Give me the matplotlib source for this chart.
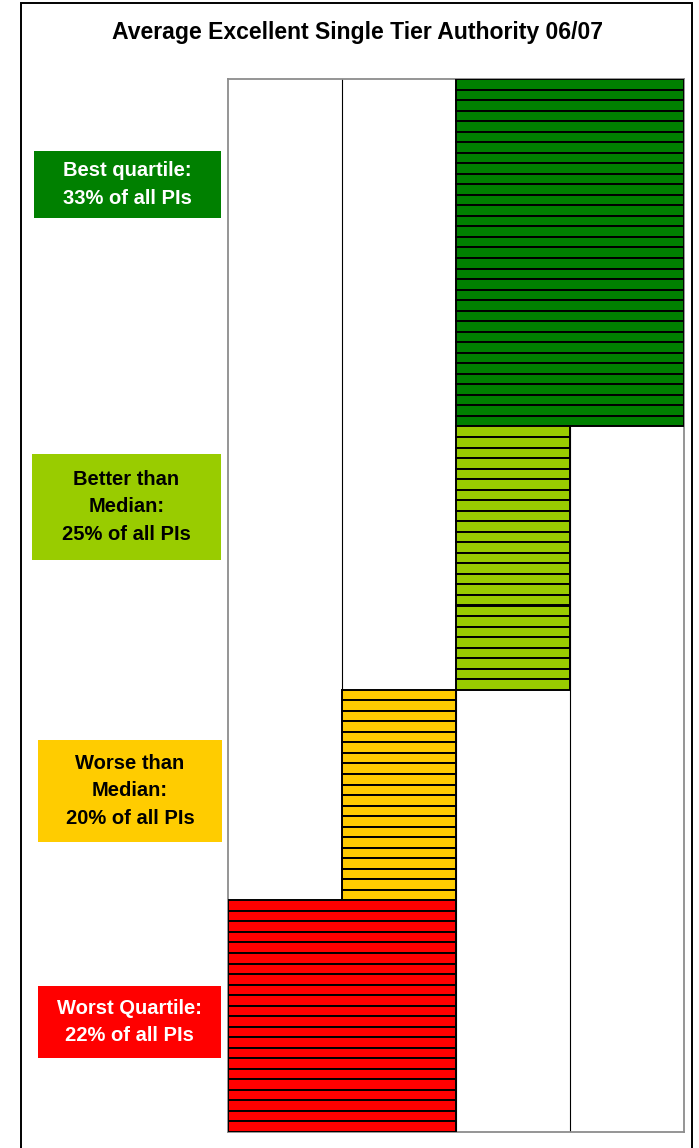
import matplotlib
matplotlib.use("Agg")
import matplotlib.pyplot as plt
from matplotlib.patches import Rectangle

plt.rcParams['font.family'] = ['Liberation Sans', 'DejaVu Sans']

# Performance-indicator bands, listed top to bottom
bands = ["Best quartile", "Better than Median", "Worse than Median", "Worst Quartile"]
pi_counts = [33, 25, 20, 22]          # number of PIs (of 100) in each band
bar_start = [2, 2, 1, 0]              # quartile scale position where the bars begin
bar_end = [4, 3, 2, 2]                # quartile scale position where the bars end
band_colors = ["#008000", "#99CC00", "#FFCC00", "#FF0000"]
band_labels = ["Best quartile:\n33% of all PIs",
               "Better than\nMedian:\n25% of all PIs",
               "Worse than\nMedian:\n20% of all PIs",
               "Worst Quartile:\n22% of all PIs"]
label_text_colors = ["white", "black", "black", "white"]
title = "Average Excellent Single Tier Authority 06/07"

W, H = 699, 1148
fig = plt.figure(figsize=(W / 100, H / 100), dpi=100)
fig.patch.set_facecolor("white")

# outer frame
fig.add_artist(Rectangle((21 / W, -0.05), (692 - 21) / W, 1.05 - 3 / H,
                         transform=fig.transFigure, fill=False,
                         edgecolor="black", linewidth=1.4))

ax = fig.add_axes([228 / W, (H - 1132) / H, (684 - 228) / W, (1132 - 79) / H])

# one horizontal bar per PI
ys, lefts, widths, cols = [], [], [], []
row = 0
for n, s, e, c in zip(pi_counts, bar_start, bar_end, band_colors):
    for _ in range(n):
        ys.append(row + 0.5)
        lefts.append(s)
        widths.append(e - s)
        cols.append(c)
        row += 1
ax.barh(ys, widths, left=lefts, height=1.0, color=cols,
        edgecolor="black", linewidth=1.4, zorder=3)

total = sum(pi_counts)
ax.set_xlim(0, 4)
ax.set_ylim(total, 0)
ax.set_xticks([1, 2, 3])
ax.set_yticks([])
ax.tick_params(axis="x", length=0, labelbottom=False)
ax.grid(axis="x", color="black", linewidth=0.8, zorder=0)
for sp in ax.spines.values():
    sp.set_color("#8c8c8c")
    sp.set_linewidth(1.3)

fig.text(358 / W, 1 - 33 / H, title, ha="center", va="center",
         fontsize=16.6, fontweight="bold", color="black")

# band label boxes (x0, y0, x1, y1 in pixels)
boxes = [(34, 151, 221, 218), (32, 454, 221, 560),
         (38, 740, 222, 842), (38, 986, 221, 1058)]
for (x0, y0, x1, y1), fc, lab, tc in zip(boxes, band_colors, band_labels,
                                          label_text_colors):
    fig.add_artist(Rectangle((x0 / W, 1 - y1 / H), (x1 - x0) / W, (y1 - y0) / H,
                             transform=fig.transFigure, facecolor=fc,
                             edgecolor="none"))
    fig.text((x0 + x1) / 2 / W, 1 - (y0 + y1) / 2 / H, lab, ha="center",
             va="center", fontsize=14.5, fontweight="bold", color=tc,
             linespacing=1.58)

fig.savefig("out.png", dpi=100)
